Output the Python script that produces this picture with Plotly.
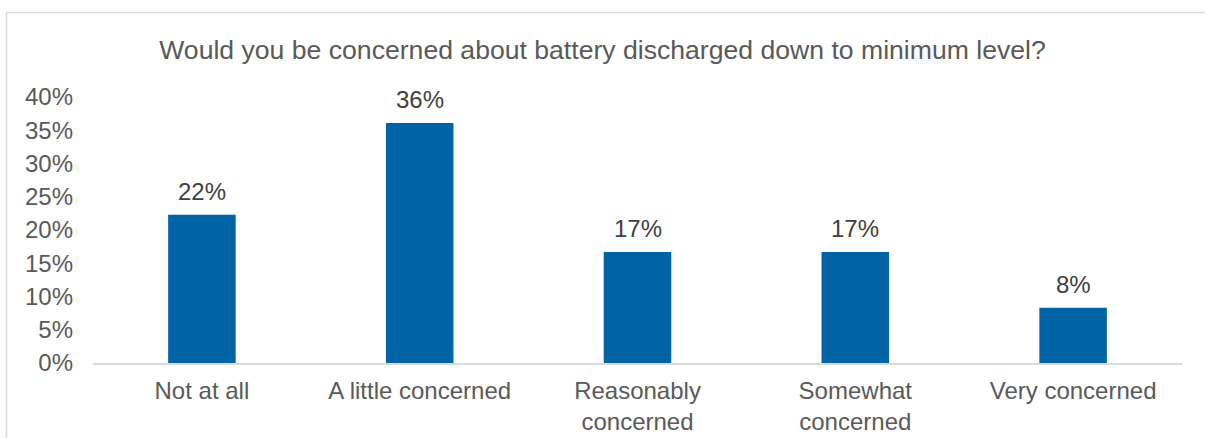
import plotly.graph_objects as go

categories = ["Not at all", "A little concerned", "Reasonably<br>concerned",
              "Somewhat<br>concerned", "Very concerned"]
shares = [0.223, 0.361, 0.167, 0.167, 0.083]
y_ticks = [0, 0.05, 0.10, 0.15, 0.20, 0.25, 0.30, 0.35, 0.40]

FONT = "Liberation Sans, Arial, sans-serif"
AXIS_GREY = "#595959"
LABEL_GREY = "#404040"
BAR_BLUE = "#0063A6"
FRAME = "#d9d9d9"

fig = go.Figure(
    go.Bar(
        x=categories,
        y=shares,
        marker=dict(color=BAR_BLUE, line=dict(width=0)),
        hovertemplate="%{x}: %{y:.0%}<extra></extra>",
    )
)

# value labels sitting just above each bar
for cat, val in zip(categories, shares):
    fig.add_annotation(
        x=cat, y=val, text=f"{val:.0%}", showarrow=False,
        yanchor="bottom", yshift=8,
        font=dict(family=FONT, size=24, color=LABEL_GREY),
    )

# chart-area frame (left and top edges, running off the page)
plot_left, plot_w = 93, 1089
plot_bottom, plot_h = 363, 266
fx = (6.5 - plot_left) / plot_w
fy = (plot_bottom - 12.5) / plot_h
fig.add_shape(type="line", xref="paper", yref="paper",
              x0=fx, x1=fx, y0=-2, y1=fy, line=dict(color=FRAME, width=1.5))
fig.add_shape(type="line", xref="paper", yref="paper",
              x0=fx, x1=2, y0=fy, y1=fy, line=dict(color=FRAME, width=1.5))

fig.update_layout(
    width=1205,
    height=438,
    margin=dict(l=93, r=23, t=97, b=75),
    paper_bgcolor="white",
    plot_bgcolor="white",
    bargap=0.69,
    showlegend=False,
    font=dict(family=FONT, size=24, color=AXIS_GREY),
    title=dict(
        text="Would you be concerned about battery discharged down to minimum level?",
        x=0.5, xref="container", xanchor="center",
        y=1 - 50 / 438, yref="container", yanchor="middle",
        font=dict(family=FONT, size=26.6, color=AXIS_GREY),
    ),
    xaxis=dict(
        showline=True, linecolor=FRAME, linewidth=1.5,
        showgrid=False, ticks="", zeroline=False, automargin=False,
        ticklabelstandoff=5,
        tickfont=dict(family=FONT, size=24, color=AXIS_GREY),
    ),
    yaxis=dict(
        range=[0, 0.40], tickvals=y_ticks, tickformat=".0%",
        showgrid=False, zeroline=False, showline=False, ticks="",
        ticklabelstandoff=19, automargin=False,
        tickfont=dict(family=FONT, size=24, color=AXIS_GREY),
    ),
)

fig.write_html("out.html")
